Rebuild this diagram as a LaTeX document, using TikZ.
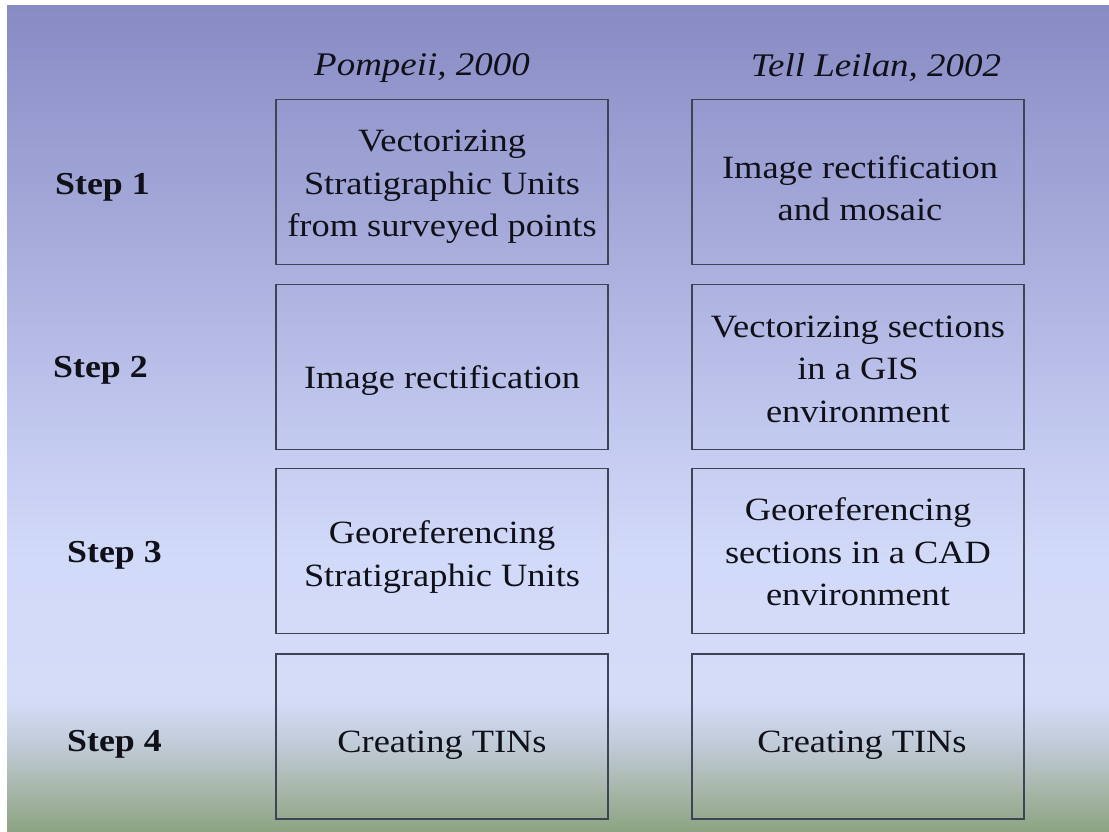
\documentclass[tikz,border=0pt]{standalone}
\usepackage{fontspec}
\setmainfont{Liberation Serif}[FakeStretch=1.12]

% slide background colours, bottom to top
\definecolor{bgA}{RGB}{140,164,130}
\definecolor{bgB}{RGB}{166,182,168}
\definecolor{bgC}{RGB}{192,203,216}
\definecolor{bgD}{RGB}{213,220,248}
\definecolor{bgE}{RGB}{210,218,249}
\definecolor{bgF}{RGB}{194,201,239}
\definecolor{bgG}{RGB}{168,173,220}
\definecolor{bgH}{RGB}{136,139,196}
\definecolor{boxline}{RGB}{62,68,84}
\definecolor{ink}{RGB}{16,16,24}

\pgfdeclareverticalshading{slidebg}{100bp}{%
  color(0bp)=(bgA); color(25bp)=(bgA); color(27.5bp)=(bgB);
  color(30.3bp)=(bgC); color(33bp)=(bgD); color(41.5bp)=(bgE);
  color(49.3bp)=(bgF); color(60.2bp)=(bgG); color(75bp)=(bgH);
  color(100bp)=(bgH)}

\tikzset{
  stepbox/.style={draw=boxline, line width=1.5pt, minimum width=332pt,
    minimum height=165pt},
  boxtext/.style={align=center, text=ink, inner sep=0pt,
    font=\fontsize{32.5}{42.5}\selectfont},
  steplabel/.style={anchor=west, text=ink, inner sep=0pt,
    font=\fontsize{32}{38}\selectfont\bfseries},
  colhead/.style={text=ink, inner sep=0pt,
    font=\fontsize{33}{38}\selectfont\itshape}
}

\begin{document}
\begin{tikzpicture}[x=1pt, y=-1pt]
  \useasboundingbox (0,0) rectangle (1109,832);
  \fill[white] (0,0) rectangle (1109,832);
  \shade[shading=slidebg] (7,6) rectangle (1109,832);

  % column headings
  \node[colhead] (hpom) at (422,68) {Pompeii, 2000};
  \node[colhead] (htell) at (876,68) {Tell Leilan, 2002};

  % row labels
  \node[steplabel] (s1) at (55,187) {Step 1};
  \node[steplabel] (s2) at (53,370) {Step 2};
  \node[steplabel] (s3) at (67,555) {Step 3};
  \node[steplabel] (s4) at (67,744) {Step 4};

  % Pompeii workflow
  \node[stepbox] (p1) at (442,182) {};
  \node[stepbox] (p2) at (442,367) {};
  \node[stepbox] (p3) at (442,551) {};
  \node[stepbox] (p4) at (442,736.5) {};
  \node[boxtext] (p1t) at (442,187) {Vectorizing\\Stratigraphic Units\\from surveyed points};
  \node[boxtext] (p2t) at (442,381) {Image rectification};
  \node[boxtext] (p3t) at (442,557) {Georeferencing\\Stratigraphic Units};
  \node[boxtext] (p4t) at (442,745) {Creating TINs};

  % Tell Leilan workflow
  \node[stepbox] (t1) at (858,182) {};
  \node[stepbox] (t2) at (858,367) {};
  \node[stepbox] (t3) at (858,551) {};
  \node[stepbox] (t4) at (858,736.5) {};
  \node[boxtext] (t1t) at (860,188) {Image rectification\\and mosaic};
  \node[boxtext] (t2t) at (858,369) {Vectorizing sections\\in a GIS\\environment};
  \node[boxtext] (t3t) at (858,552) {Georeferencing\\sections in a CAD\\environment};
  \node[boxtext] (t4t) at (862,745) {Creating TINs};
\end{tikzpicture}
\end{document}
